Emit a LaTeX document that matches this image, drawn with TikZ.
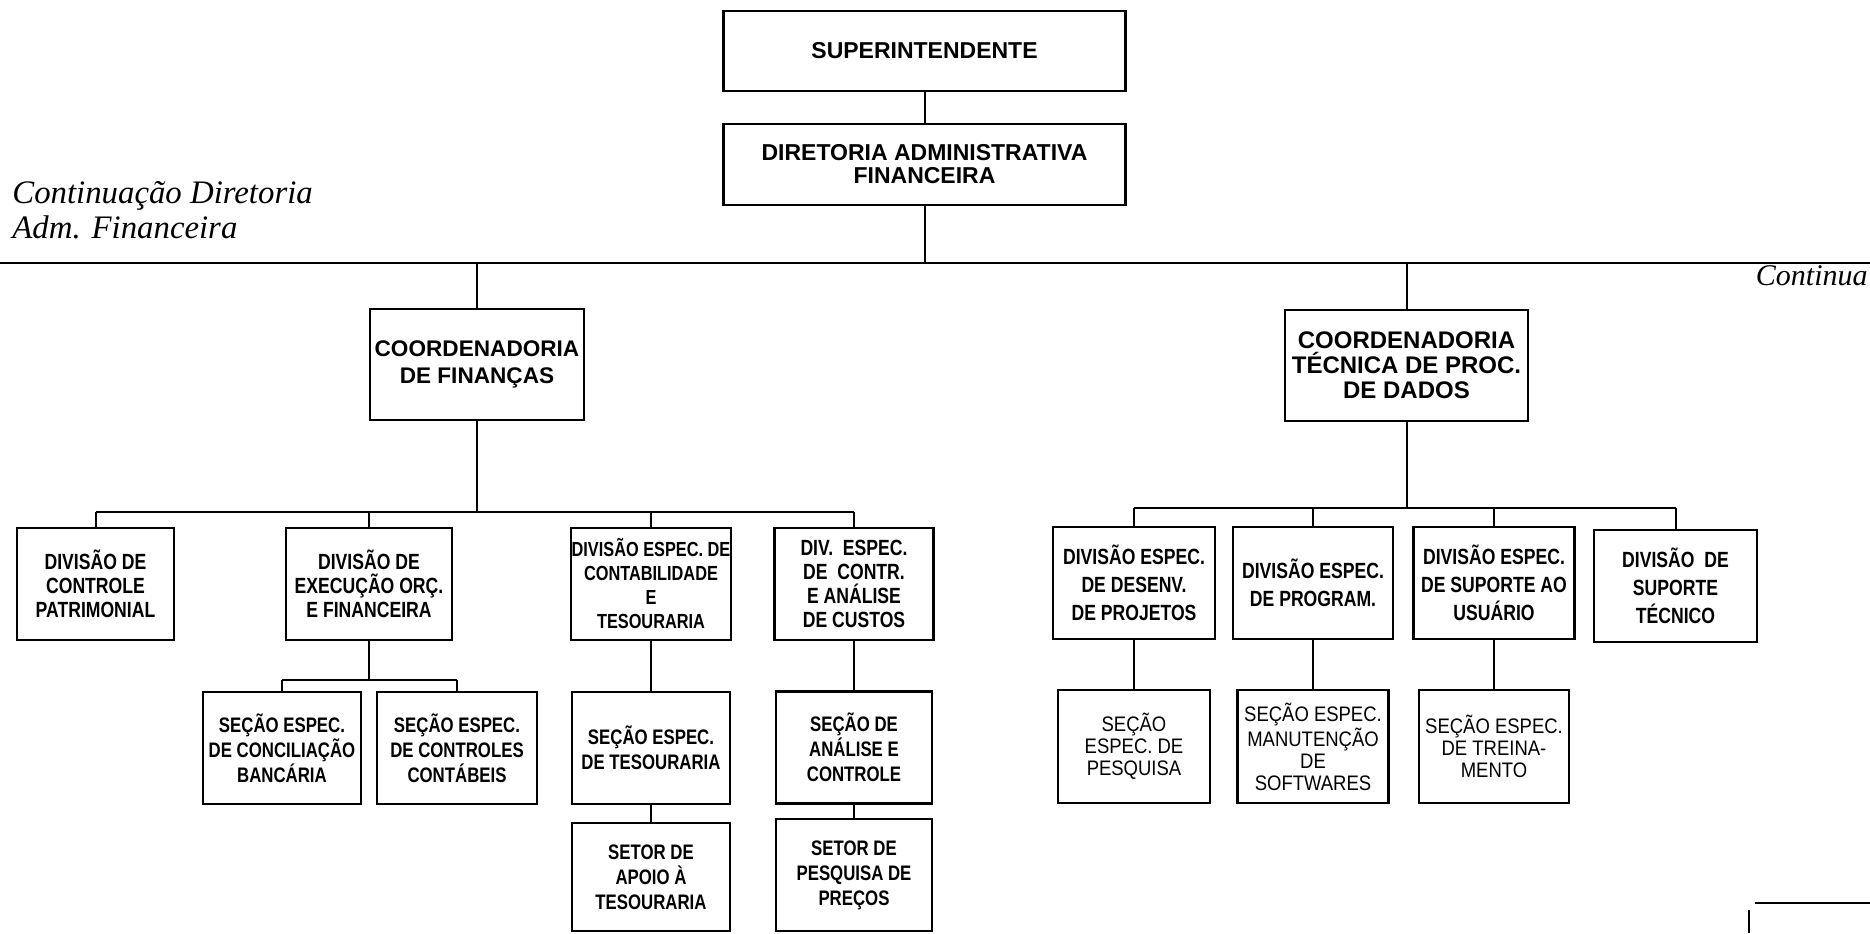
\documentclass[tikz,border=0pt]{standalone}
\usepackage{fontspec}
\setmainfont{Liberation Sans}
\newfontfamily\narrowfont[FakeStretch=0.8]{Liberation Sans}
\newfontfamily\narrowlightfont[FakeStretch=0.88]{Liberation Sans}
\newfontfamily\italicserif{Liberation Serif}

\begin{document}
\begin{tikzpicture}[x=0.5pt,y=-0.5pt,
    box/.style={draw,line width=1.3pt,inner sep=0pt,align=center},
    topbox/.style={box,font=\fontsize{11.5}{11.5}\selectfont\bfseries,minimum width=201pt},
    coordbox/.style={box,minimum height=55.5pt},
    divbox/.style={box,font=\narrowfont\fontsize{11}{12}\selectfont\bfseries,minimum height=56pt},
    tdivbox/.style={box,font=\narrowfont\fontsize{11}{14}\selectfont\bfseries,minimum height=56pt},
    secbox/.style={box,font=\narrowfont\fontsize{10.5}{12.5}\selectfont\bfseries,minimum height=56pt},
    tsecbox/.style={box,font=\narrowlightfont\fontsize{10.5}{11}\selectfont,minimum height=56.5pt},
    link/.style={line width=1pt},
    note/.style={inner sep=0pt,font=\italicserif\itshape}]
      \useasboundingbox (0,0) rectangle (1870,933);

      % top of the chart
      \node[topbox,minimum height=40pt]   (sup) at (924.5,51)    {SUPERINTENDENTE};
      \node[topbox,minimum height=40.5pt] (dir) at (924.5,164.5) {DIRETORIA ADMINISTRATIVA\\FINANCEIRA};

      \node[note,anchor=base west,font=\italicserif\itshape\fontsize{16.4}{17.5}\selectfont] (contA) at (12,203) {Continuação Diretoria};
      \node[note,anchor=base west,font=\italicserif\itshape\fontsize{16.4}{17.5}\selectfont] (contB) at (12,238) {Adm. Financeira};
      \node[note,anchor=base east,font=\italicserif\itshape\fontsize{15}{16}\selectfont]     (cont)  at (1868,285) {Continua};

      \coordinate (barL) at (0,263);
      \coordinate (barR) at (1870,263);

      % coordenadorias
      \node[coordbox,minimum width=107pt,font=\fontsize{11.3}{13.5}\selectfont\bfseries]  (coordfin) at (477,364.5)    {COORDENADORIA\\DE FINANÇAS};
      \node[coordbox,minimum width=121.5pt,font=\fontsize{12}{12.5}\selectfont\bfseries] (coordtec) at (1406.5,365.5) {COORDENADORIA\\TÉCNICA DE PROC.\\DE DADOS};

      % divisoes de financas
      \node[divbox,minimum width=78.5pt] (divpat)  at (95.5,584) {DIVISÃO DE\\CONTROLE\\PATRIMONIAL};
      \node[divbox,minimum width=83pt]   (divexec) at (369,584)  {DIVISÃO DE\\EXECUÇÃO ORÇ.\\E FINANCEIRA};
      \node[divbox,minimum width=80pt,font=\narrowfont\fontsize{10.2}{12}\selectfont\bfseries] (divcont) at (651,584) {DIVISÃO ESPEC. DE\\CONTABILIDADE\\E\\TESOURARIA};
      \node[divbox,minimum width=79.5pt] (divcust) at (854,584)  {DIV.\ \ ESPEC.\\DE\ \ CONTR.\\E ANÁLISE\\DE CUSTOS};

      \node[secbox,minimum width=79pt]  (secconc) at (282,748) {SEÇÃO ESPEC.\\DE CONCILIAÇÃO\\BANCÁRIA};
      \node[secbox,minimum width=80pt]  (secctrl) at (457,748) {SEÇÃO ESPEC.\\DE CONTROLES\\CONTÁBEIS};
      \node[secbox,minimum width=79pt]  (sectes)  at (651,748) {SEÇÃO ESPEC.\\DE TESOURARIA};
      \node[secbox,minimum width=79pt,minimum height=54pt] (setapoio) at (651,877) {SETOR DE\\APOIO À\\TESOURARIA};
      \node[secbox,minimum width=78pt]  (secanal) at (854,747.5) {SEÇÃO DE\\ANÁLISE E\\CONTROLE};
      \node[secbox,minimum width=78pt]  (setprec) at (854,875) {SETOR DE\\PESQUISA DE\\PREÇOS};

      % divisoes de proc. de dados
      \node[tdivbox,minimum width=81pt]   (divproj) at (1134,583)   {DIVISÃO ESPEC.\\DE DESENV.\\DE PROJETOS};
      \node[tdivbox,minimum width=80pt]   (divprog) at (1313,583)   {DIVISÃO ESPEC.\\DE PROGRAM.};
      \node[tdivbox,minimum width=80.5pt] (divusu)  at (1494,583)   {DIVISÃO ESPEC.\\DE SUPORTE AO\\USUÁRIO};
      \node[tdivbox,minimum width=81.5pt] (divtec)  at (1675.5,586) {DIVISÃO\ \ DE\\SUPORTE\\TÉCNICO};

      \node[tsecbox,minimum width=76pt]   (secpesq)  at (1134,746.5) {SEÇÃO\\ESPEC. DE\\PESQUISA};
      \node[tsecbox,minimum width=75.5pt] (secmanut) at (1313,746.5) {SEÇÃO ESPEC.\\MANUTENÇÃO\\DE\\SOFTWARES};
      \node[tsecbox,minimum width=75pt]   (sectrein) at (1494,746.5) {SEÇÃO ESPEC.\\DE TREINA-\\MENTO};

      \coordinate (finbar) at (0,512);
      \coordinate (execbar) at (0,680);
      \coordinate (tecbar) at (0,508);

      % ligacoes
      \draw[link] (sup) -- (dir);
      \draw[link] (dir) -- (dir |- barL);
      \draw[link] (barL) -- (barR);
      \draw[link] (coordfin |- barL) -- (coordfin);
      \draw[link] (coordtec |- barL) -- (coordtec);

      \draw[link] (coordfin) -- (coordfin |- finbar);
      \draw[link] (divpat |- finbar) -- (divcust |- finbar);
      \draw[link] (divpat |- finbar)  -- (divpat);
      \draw[link] (divexec |- finbar) -- (divexec);
      \draw[link] (divcont |- finbar) -- (divcont);
      \draw[link] (divcust |- finbar) -- (divcust);

      \draw[link] (divexec) -- (divexec |- execbar);
      \draw[link] (secconc |- execbar) -- (secctrl |- execbar);
      \draw[link] (secconc |- execbar) -- (secconc);
      \draw[link] (secctrl |- execbar) -- (secctrl);
      \draw[link] (divcont) -- (sectes);
      \draw[link] (sectes) -- (setapoio);
      \draw[link] (divcust) -- (secanal);
      \draw[link] (secanal) -- (setprec);

      \draw[link] (coordtec) -- (coordtec |- tecbar);
      \draw[link] (divproj |- tecbar) -- (divtec |- tecbar);
      \draw[link] (divproj |- tecbar) -- (divproj);
      \draw[link] (divprog |- tecbar) -- (divprog);
      \draw[link] (divusu |- tecbar)  -- (divusu);
      \draw[link] (divtec |- tecbar)  -- (divtec);
      \draw[link] (divproj) -- (secpesq);
      \draw[link] (divprog) -- (secmanut);
      \draw[link] (divusu) -- (sectrein);

      % canto da folha seguinte
      \draw[link] (1755,903) -- (1870,903);
      \draw[link] (1749,910) -- (1749,933);
\end{tikzpicture}
\end{document}
